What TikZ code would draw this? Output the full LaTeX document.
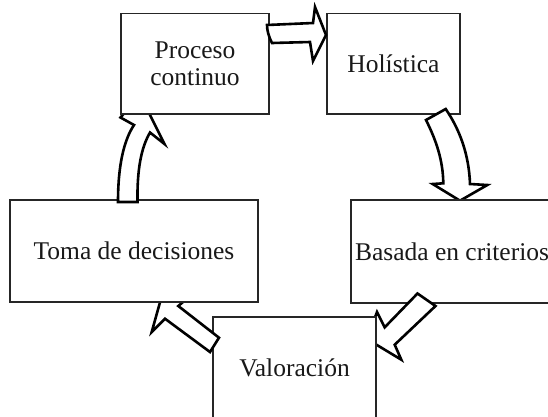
\documentclass[tikz,border=0pt]{standalone}
\usepackage{fontspec}
\setmainfont{Liberation Serif}
\begin{document}
\begin{tikzpicture}[x=1pt,y=-1pt,
  box/.style={draw=black!85,line width=1.2pt,fill=white,inner sep=0pt,
    font=\fontsize{25.5}{27}\selectfont,align=center,text=black!90},
  blockarrow/.style={draw=black,line width=2.6pt,fill=white,line join=miter,miter limit=20}]
\useasboundingbox (0,0) rectangle (548,416);
\clip (0,0) rectangle (548,416);
% Holistica
\node[box,minimum width=133pt,minimum height=100.5pt] (hol) at (393.5,63.75) {Hol\'istica};
% arrow Holistica -> Basada
\draw[blockarrow] (426,120) .. controls (436,140) and (443,160) .. (443.3,183.3)
  -- (432.7,184) -- (460,200.7) -- (487.3,185) -- (470,184)
  .. controls (469,155) and (460,130) .. (445.7,109) -- cycle;
% Basada
\node[box,minimum width=202pt,minimum height=103pt] (bas) at (452,251.5) {Basada en criterios};
% arrow Basada -> Valoracion
\draw[blockarrow] (417.5,293.5) -- (435.5,306) -- (394.7,344.7) -- (401.3,359.7)
  -- (367,339) -- (377,312) -- (384.7,327.3) -- cycle;
% Valoracion
\node[box,minimum width=163pt,minimum height=101pt] (val) at (294.5,367.5) {Valoraci\'on};
% arrow Valoracion -> Toma
\draw[blockarrow] (210,352) -- (165,318.7) -- (151.7,332) -- (164,288) -- (190,296)
  -- (178.3,306) -- (219,337.7) -- cycle;
% Toma de decisiones
\node[box,minimum width=248pt,minimum height=102pt] (tom) at (134,251) {Toma de decisiones};
% arrow Toma -> Proceso
\draw[blockarrow] (118,202) .. controls (118,165) and (124,140) .. (134,125)
  -- (120.5,117.5) -- (140,95) -- (164.5,144) -- (150,132.5)
  .. controls (141,148) and (137,170) .. (137.5,202) -- cycle;
% Proceso continuo
\node[box,minimum width=148pt,minimum height=100.5pt] (pro) at (195,63.75) {Proceso\\continuo};
% arrow Proceso -> Holistica
\draw[blockarrow] (267,25) -- (313,23) -- (315,7) -- (326,35) -- (313,61) -- (310,42)
  -- (272,43) .. controls (269,37) and (267,31) .. (267,25) -- cycle;
\end{tikzpicture}
\end{document}
